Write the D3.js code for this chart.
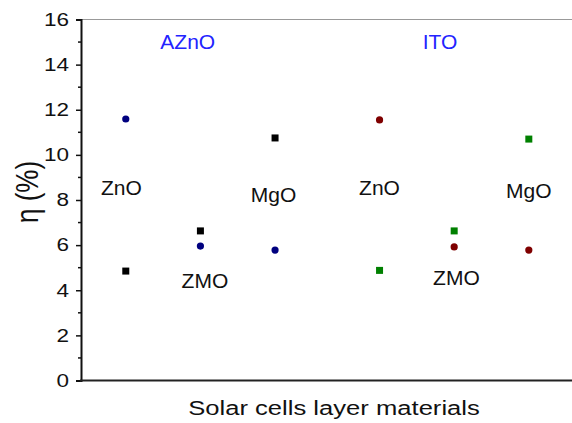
<!DOCTYPE html>
<html>
<head>
<meta charset="utf-8">
<script src="https://cdn.jsdelivr.net/npm/d3@7/dist/d3.min.js"></script>
<style>
  html, body { margin: 0; padding: 0; background: #fff; }
  svg { display: block; font-family: "Liberation Sans", Arial, sans-serif; }
</style>
</head>
<body>
<svg id="chart" width="572" height="423"></svg>
<script>
// Layer materials and electrode groups
const categories = ["ZnO", "ZMO", "MgO"];
const groups = ["AZnO", "ITO"];
const aznoX = [1, 2, 3];
const itoX = [4.4, 5.4, 6.4];

// Efficiency η (%) for each layer material
const aznoCircles = [11.59, 5.96, 5.78];
const aznoSquares = [4.85, 6.63, 10.75];
const itoCircles = [11.55, 5.92, 5.78];
const itoSquares = [4.88, 6.63, 10.70];

// Axis ticks
const yTicks = [0, 2, 4, 6, 8, 10, 12, 14, 16];
const yMinorTicks = [1, 3, 5, 7, 9, 11, 13, 15];

// Annotation positions (x in category units, y in η units)
const groupLabelX = [1.83, 5.21];
const groupLabelY = 14.7;
const aznoLabelX = [0.94, 2.06, 2.98];
const itoLabelX = [4.4, 5.43, 6.4];
const materialLabelY = [8.2, 4.1, 7.9];
const itoMaterialLabelY = [8.2, 4.25, 8.1];

const svg = d3.select("#chart");
const plotLeft = 81, plotTop = 19.5, plotBottom = 380.5, plotRight = 573.6;

const x = d3.scaleLinear().domain([0.4, 7.0]).range([plotLeft, plotRight]);
const y = d3.scaleLinear().domain([0, 16]).range([plotBottom, plotTop]);

// frame top edge
svg.append("line")
  .attr("x1", plotLeft).attr("x2", 572)
  .attr("y1", plotTop).attr("y2", plotTop)
  .attr("stroke", "#999").attr("stroke-width", 1);

// y axis (major ticks with labels, set slightly wide)
const yAxis = svg.append("g")
  .attr("transform", `translate(${plotLeft},0)`)
  .call(d3.axisLeft(y).tickValues(yTicks).tickSize(5).tickPadding(7).tickFormat(d3.format("d")));
yAxis.select(".domain").attr("stroke", "#111").attr("stroke-width", 2);
yAxis.selectAll(".tick line").attr("stroke", "#111").attr("stroke-width", 1.5);
yAxis.selectAll(".tick text")
  .attr("x", 0)
  .attr("transform", "translate(-12,0) scale(1.25,1)")
  .attr("fill", "#111")
  .style("font-size", "18px")
  .style("font-family", "Liberation Sans, Arial, sans-serif");

// minor ticks
svg.append("g")
  .selectAll("line")
  .data(yMinorTicks)
  .join("line")
  .attr("x1", plotLeft - 3).attr("x2", plotLeft)
  .attr("y1", d => y(d)).attr("y2", d => y(d))
  .attr("stroke", "#111").attr("stroke-width", 1.5);

// x axis line
svg.append("line")
  .attr("x1", plotLeft - 1).attr("x2", 572)
  .attr("y1", plotBottom).attr("y2", plotBottom)
  .attr("stroke", "#222").attr("stroke-width", 2);

// axis titles
svg.append("text")
  .attr("transform", `translate(334,415) scale(1.28,1)`)
  .attr("text-anchor", "middle")
  .attr("fill", "#111")
  .style("font-size", "20px")
  .text("Solar cells layer materials");

svg.append("text")
  .attr("transform", `translate(38,192) rotate(-90) scale(1,1.2)`)
  .attr("text-anchor", "middle")
  .attr("fill", "#111")
  .style("font-size", "26px")
  .text("η (%)");

// markers
function circles(xs, vals, color) {
  svg.append("g").selectAll("circle")
    .data(vals)
    .join("circle")
    .attr("cx", (d, i) => x(xs[i]))
    .attr("cy", d => y(d))
    .attr("r", 3.6)
    .attr("fill", color);
}
function squares(xs, vals, color) {
  const s = 7;
  svg.append("g").selectAll("rect")
    .data(vals)
    .join("rect")
    .attr("x", (d, i) => x(xs[i]) - s / 2)
    .attr("y", d => y(d) - s / 2)
    .attr("width", s).attr("height", s)
    .attr("fill", color);
}
squares(aznoX, aznoSquares, "#000000");
circles(aznoX, aznoCircles, "#00007f");
squares(itoX, itoSquares, "#008000");
circles(itoX, itoCircles, "#7f0000");

// group labels
svg.append("g").selectAll("text")
  .data(groups)
  .join("text")
  .attr("x", (d, i) => x(groupLabelX[i]))
  .attr("y", y(groupLabelY))
  .attr("text-anchor", "middle")
  .attr("fill", "#2323ff")
  .style("font-size", "21px")
  .text(d => d);

// material labels
function materialLabels(xs, ys) {
  svg.append("g").selectAll("text")
    .data(categories)
    .join("text")
    .attr("x", (d, i) => x(xs[i]))
    .attr("y", (d, i) => y(ys[i]))
    .attr("text-anchor", "middle")
    .attr("fill", "#111")
    .style("font-size", "21px")
    .text(d => d);
}
materialLabels(aznoLabelX, materialLabelY);
materialLabels(itoLabelX, itoMaterialLabelY);
</script>
</body>
</html>
